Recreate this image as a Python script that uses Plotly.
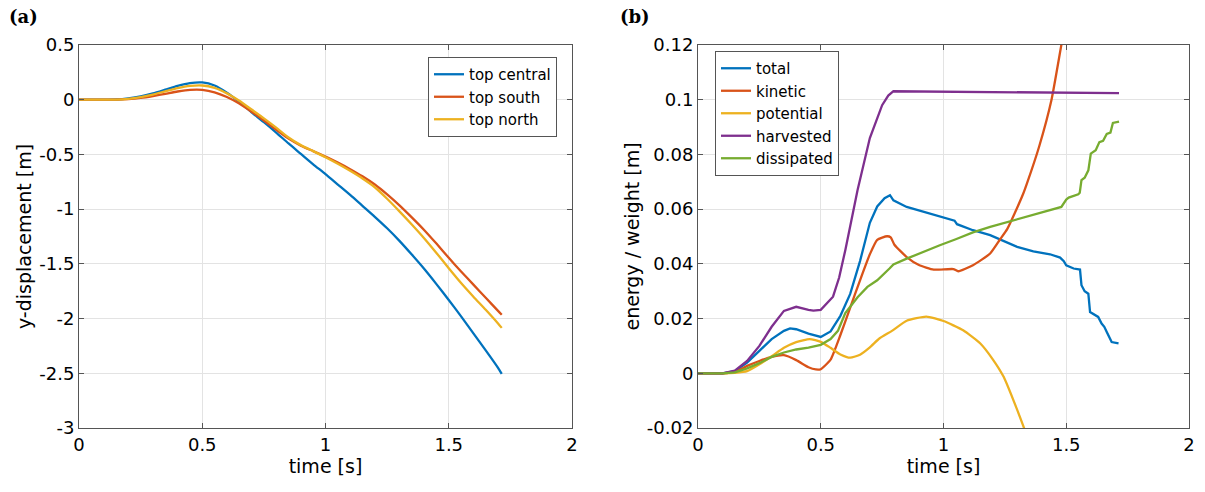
import plotly.graph_objects as go

# ---------------- panel (a): y-displacement ----------------
t_a = [0, 0.05, 0.1, 0.15, 0.2, 0.25, 0.3, 0.35, 0.4, 0.45, 0.5, 0.55, 0.6, 0.65, 0.7,
       0.75, 0.8, 0.85, 0.9, 0.95, 1.0, 1.05, 1.1, 1.15, 1.2, 1.25, 1.3, 1.35, 1.4,
       1.45, 1.5, 1.55, 1.6, 1.65, 1.7, 1.715]
top_central = [0, 0, 0, 0.002, 0.012, 0.03, 0.058, 0.092, 0.127, 0.152, 0.158, 0.13, 0.065,
               -0.02, -0.115, -0.205, -0.30, -0.40, -0.495, -0.59, -0.68, -0.775, -0.87,
               -0.97, -1.07, -1.175, -1.29, -1.415, -1.545, -1.685, -1.83, -1.98, -2.135,
               -2.29, -2.45, -2.505]
top_south = [0, 0, 0, 0.001, 0.006, 0.017, 0.034, 0.054, 0.075, 0.09, 0.09, 0.068, 0.025,
             -0.035, -0.11, -0.19, -0.275, -0.355, -0.42, -0.47, -0.52, -0.575, -0.635,
             -0.70, -0.775, -0.865, -0.965, -1.075, -1.19, -1.315, -1.445, -1.57, -1.69,
             -1.81, -1.93, -1.965]
top_north = [0, 0, 0, 0.001, 0.008, 0.024, 0.047, 0.077, 0.106, 0.126, 0.13, 0.108, 0.058,
             -0.01, -0.09, -0.17, -0.255, -0.345, -0.415, -0.47, -0.525, -0.585, -0.65,
             -0.72, -0.80, -0.905, -1.02, -1.14, -1.265, -1.40, -1.54, -1.675, -1.80,
             -1.92, -2.045, -2.085]

# ---------------- panel (b): energy / weight ----------------
t_total = [0, 0.1, 0.15, 0.2, 0.25, 0.3, 0.35, 0.375, 0.4, 0.45, 0.5, 0.54, 0.58, 0.62,
           0.66, 0.7, 0.73, 0.76, 0.782, 0.796, 0.85, 0.92, 1.0, 1.045, 1.055, 1.12,
           1.19, 1.23, 1.3, 1.366, 1.434, 1.475, 1.49, 1.5, 1.53, 1.556, 1.562, 1.575,
           1.59, 1.597, 1.61, 1.63, 1.644, 1.655, 1.665, 1.675, 1.685, 1.713]
total = [0, 0, 0.0008, 0.0039, 0.0082, 0.0125, 0.0155, 0.0164, 0.0161, 0.0145, 0.0133,
         0.0153, 0.021, 0.029, 0.041, 0.055, 0.061, 0.064, 0.0651, 0.0632, 0.0608,
         0.0590, 0.0569, 0.0558, 0.0545, 0.0523, 0.0505, 0.0489, 0.0462, 0.0446,
         0.0435, 0.0423, 0.041, 0.0395, 0.0383, 0.0379, 0.0322, 0.030, 0.0291, 0.0224,
         0.0218, 0.0206, 0.0182, 0.017, 0.0151, 0.0135, 0.0114, 0.0109]

t_kin = [0, 0.1, 0.15, 0.2, 0.25, 0.3, 0.35, 0.4, 0.45, 0.48, 0.5, 0.54, 0.58, 0.62, 0.66,
         0.7, 0.73, 0.77, 0.785, 0.8, 0.85, 0.9, 0.96, 1.04, 1.06, 1.12, 1.19, 1.23,
         1.26, 1.29, 1.325, 1.34, 1.39, 1.44, 1.48, 1.52]
kinetic = [0, 0, 0.0005, 0.0027, 0.0045, 0.006, 0.0066, 0.0048, 0.0022, 0.0014, 0.0015,
           0.005, 0.014, 0.024, 0.034, 0.0435, 0.0488, 0.0501, 0.0497, 0.047, 0.0425,
           0.0396, 0.0379, 0.0381, 0.0373, 0.0395, 0.0438, 0.0489, 0.0528, 0.0585,
           0.0657, 0.0694, 0.083, 0.1, 0.12, 0.14]

t_pot = [0, 0.1, 0.15, 0.2, 0.25, 0.3, 0.35, 0.4, 0.455, 0.5, 0.54, 0.58, 0.62, 0.66, 0.7,
         0.74, 0.79, 0.85, 0.93, 1.0, 1.08, 1.15, 1.2, 1.245, 1.285, 1.33, 1.4]
potential = [0, 0, 0.0002, 0.0008, 0.0033, 0.0062, 0.0093, 0.0114, 0.0125, 0.0115, 0.0093,
             0.0069, 0.0057, 0.0068, 0.0095, 0.0128, 0.0155, 0.0192, 0.0207, 0.0191,
             0.0157, 0.0109, 0.0052, -0.0013, -0.0099, -0.0205, -0.04]

t_harv = [0, 0.1, 0.15, 0.2, 0.25, 0.3, 0.35, 0.4, 0.45, 0.47, 0.5, 0.55, 0.575, 0.6,
          0.65, 0.7, 0.75, 0.775, 0.796, 1.0, 1.2, 1.4, 1.6, 1.715]
harvested = [0, 0, 0.001, 0.0045, 0.010, 0.017, 0.0228, 0.0243, 0.0232, 0.0229, 0.0232,
             0.028, 0.035, 0.045, 0.067, 0.086, 0.098, 0.1015, 0.1031, 0.103, 0.1028,
             0.1027, 0.1025, 0.1024]

t_diss = [0, 0.1, 0.15, 0.2, 0.25, 0.3, 0.35, 0.4, 0.45, 0.5, 0.54, 0.57, 0.6, 0.65, 0.69,
          0.73, 0.78, 0.796, 0.85, 0.92, 0.985, 1.05, 1.12, 1.19, 1.23, 1.3, 1.366,
          1.434, 1.48, 1.5, 1.51, 1.549, 1.555, 1.562, 1.575, 1.59, 1.6, 1.62, 1.635,
          1.65, 1.665, 1.68, 1.69, 1.715]
dissipated = [0, 0, 0.0003, 0.0018, 0.0037, 0.006, 0.0076, 0.0087, 0.0094, 0.0104, 0.0125,
              0.0155, 0.022, 0.0278, 0.0316, 0.034, 0.0383, 0.0398, 0.0419, 0.0445,
              0.0468, 0.049, 0.0515, 0.0535, 0.0545, 0.0565, 0.0581, 0.0596, 0.0608,
              0.0635, 0.0642, 0.0654, 0.066, 0.0706, 0.0715, 0.0742, 0.0803, 0.0815,
              0.0845, 0.085, 0.0875, 0.088, 0.0915, 0.092]

# ticks
x_ticks = [0, 0.5, 1, 1.5, 2]
x_ticktext = ["0", "0.5", "1", "1.5", "2"]
ya_ticks = [0.5, 0, -0.5, -1, -1.5, -2, -2.5, -3]
ya_ticktext = ["0.5", "0", "-0.5", "-1", "-1.5", "-2", "-2.5", "-3"]
yb_ticks = [0.12, 0.1, 0.08, 0.06, 0.04, 0.02, 0, -0.02]
yb_ticktext = ["0.12", "0.1", "0.08", "0.06", "0.04", "0.02", "0", "-0.02"]

BLUE, RED, YEL, PUR, GRN = "#0072BD", "#D95319", "#EDB120", "#7E2F8E", "#77AC30"
LW = 2.3
FONT = "DejaVu Sans, sans-serif"

fig = go.Figure()
for name, y, c in [("top central", top_central, BLUE), ("top south", top_south, RED),
                   ("top north", top_north, YEL)]:
    fig.add_trace(go.Scatter(x=t_a, y=y, mode="lines", name=name,
                             line=dict(color=c, width=LW, shape="spline", smoothing=0.6),
                             xaxis="x", yaxis="y", legend="legend"))

for name, tt, y, c, shp in [("total", t_total, total, BLUE, "linear"),
                            ("kinetic", t_kin, kinetic, RED, "spline"),
                            ("potential", t_pot, potential, YEL, "spline"),
                            ("harvested", t_harv, harvested, PUR, "linear"),
                            ("dissipated", t_diss, dissipated, GRN, "linear")]:
    ln = dict(color=c, width=LW, shape=shp)
    if shp == "spline":
        ln["smoothing"] = 0.5
    fig.add_trace(go.Scatter(x=tt, y=y, mode="lines", name=name, line=ln,
                             xaxis="x2", yaxis="y2", legend="legend2"))

W, H = 1205, 492
axcol = "#555555"
gridcol = "#e3e3e3"

def xax(domain, anchor):
    return dict(domain=domain, anchor=anchor, range=[0, 2], tickvals=x_ticks,
                ticktext=x_ticktext, showgrid=True, gridcolor=gridcol, gridwidth=1,
                showline=True, linecolor=axcol, linewidth=1, mirror="ticks",
                ticks="inside", ticklen=5, tickcolor=axcol, zeroline=False,
                automargin=False, tickfont=dict(size=18, color="#000"),
                title=dict(text="time [s]", font=dict(size=19, color="#000"), standoff=4))

def yax(domain, anchor, rng, tv, tt, title):
    return dict(domain=domain, anchor=anchor, range=rng, tickvals=tv, ticktext=tt,
                showgrid=True, gridcolor=gridcol, gridwidth=1, showline=True,
                linecolor=axcol, linewidth=1, mirror="ticks", ticks="inside", ticklen=5,
                tickcolor=axcol, zeroline=False, automargin=False,
                tickfont=dict(size=18, color="#000"),
                title=dict(text=title, font=dict(size=19, color="#000"), standoff=2))

ydom = [1 - 428 / H, 1 - 45 / H]
fig.update_layout(
    width=W, height=H, margin=dict(l=0, r=0, t=0, b=0, autoexpand=False),
    paper_bgcolor="white", plot_bgcolor="white",
    font=dict(family=FONT, size=15, color="#000"),
    xaxis=xax([79 / W, 572 / W], "y"),
    yaxis=yax(ydom, "x", [-3, 0.5], ya_ticks, ya_ticktext, "y-displacement [m]"),
    xaxis2=xax([698 / W, 1189 / W], "y2"),
    yaxis2=yax(ydom, "x2", [-0.02, 0.12], yb_ticks, yb_ticktext, "energy / weight [m]"),
    legend=dict(x=428 / W, y=1 - 57 / H, xanchor="left", yanchor="top",
                bgcolor="white", bordercolor=axcol, borderwidth=1,
                font=dict(size=15), itemwidth=30, tracegroupgap=0),
    legend2=dict(x=715 / W, y=1 - 51 / H, xanchor="left", yanchor="top",
                 bgcolor="white", bordercolor=axcol, borderwidth=1,
                 font=dict(size=15), itemwidth=30, tracegroupgap=0),
    showlegend=True,
    annotations=[
        dict(text="<b>(a)</b>", x=23 / W, y=1 - 17 / H, xref="paper", yref="paper",
             xanchor="center", yanchor="middle", showarrow=False,
             font=dict(family="DejaVu Serif", size=18, color="#000")),
        dict(text="<b>(b)</b>", x=635 / W, y=1 - 17 / H, xref="paper", yref="paper",
             xanchor="center", yanchor="middle", showarrow=False,
             font=dict(family="DejaVu Serif", size=18, color="#000")),
    ],
)

fig.write_html("out.html")
